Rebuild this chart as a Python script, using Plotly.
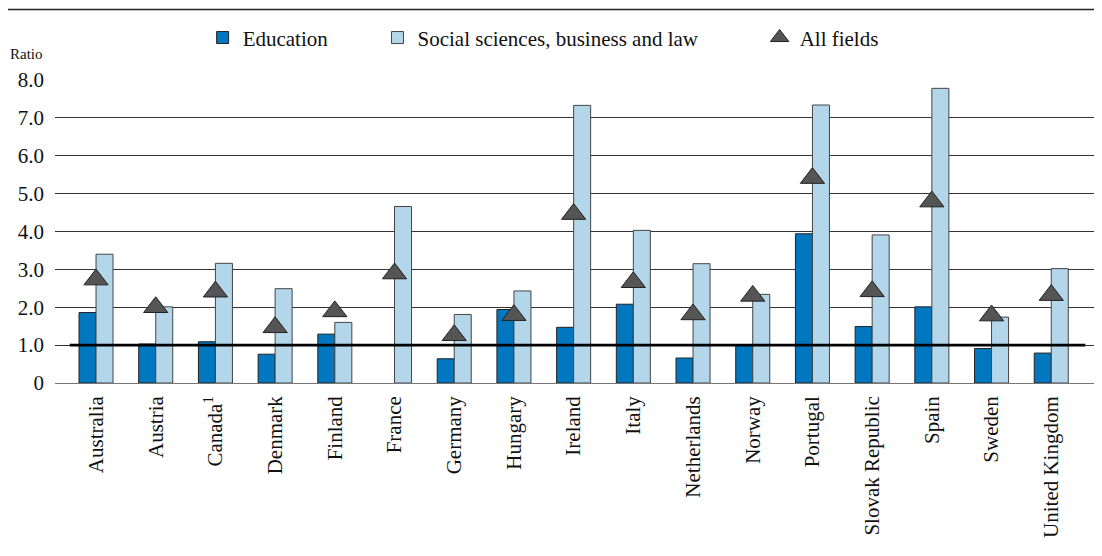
import plotly.graph_objects as go

countries = ["Australia", "Austria", "Canada<sup>1</sup>", "Denmark", "Finland", "France",
             "Germany", "Hungary", "Ireland", "Italy", "Netherlands", "Norway", "Portugal",
             "Slovak Republic", "Spain", "Sweden", "United Kingdom"]
education = [1.86, 1.03, 1.09, 0.76, 1.29, None, 0.64, 1.94, 1.47, 2.08, 0.66, 1.00, 3.94,
             1.49, 2.01, 0.91, 0.79]
social = [3.40, 2.01, 3.16, 2.49, 1.60, 4.66, 1.81, 2.43, 7.33, 4.03, 3.15, 2.34, 7.34,
          3.91, 7.78, 1.74, 3.02]
all_fields = [2.73, 2.00, 2.41, 1.47, 1.89, 2.89, 1.26, 1.79, 4.46, 2.66, 1.81, 2.30, 5.41,
              2.42, 4.79, 1.78, 2.32]
y_tickvals = [0, 1, 2, 3, 4, 5, 6, 7, 8]
y_ticktext = ["0", "1.0", "2.0", "3.0", "4.0", "5.0", "6.0", "7.0", "8.0"]
reference_ratio = 1.0

FONT = "Liberation Serif"

fig = go.Figure()
fig.add_trace(go.Bar(
    x=countries, y=education, name="Education",
    marker=dict(color="#0077BE", line=dict(color="#222222", width=1)),
    legend="legend", showlegend=True,
))
fig.add_trace(go.Bar(
    x=countries, y=social, name="Social sciences, business and law",
    marker=dict(color="#B4D6EA", line=dict(color="#444444", width=1)),
    legend="legend2", showlegend=True,
))
fig.add_trace(go.Scatter(
    x=countries, y=all_fields, name="All fields", mode="markers",
    marker=dict(symbol="triangle-up", size=21, color="#555555",
                line=dict(color="#222222", width=1)),
    legend="legend3", showlegend=True,
))

fig.add_shape(type="line", xref="x", yref="y", x0=-0.44, x1=16.57,
              y0=reference_ratio, y1=reference_ratio,
              line=dict(color="#000000", width=2.6), layer="above")
fig.add_shape(type="line", xref="paper", yref="paper", x0=-0.05, x1=1.0,
              y0=1.233, y1=1.233, line=dict(color="#222222", width=1.5))

fig.add_annotation(text="Ratio", xref="paper", yref="paper", x=-0.045, y=1.085,
                   xanchor="left", yanchor="middle", showarrow=False,
                   font=dict(family=FONT, size=15, color="#111111"))

leg_common = dict(orientation="h", yanchor="middle", y=1.139, xanchor="left",
                  font=dict(family=FONT, size=21, color="#111111"),
                  bgcolor="rgba(0,0,0,0)", traceorder="normal")

# page body has an 8px margin; figure is sized to fill the remaining window
fig.update_layout(
    width=1094, height=548,
    margin=dict(l=47, r=0, t=72, b=173, autoexpand=False),
    paper_bgcolor="white", plot_bgcolor="white",
    showlegend=True,
    barmode="group", bargap=0.43, bargroupgap=0,
    font=dict(family=FONT, size=20, color="#111111"),
    legend=dict(x=0.141, **leg_common),
    legend2=dict(x=0.308, **leg_common),
    legend3=dict(x=0.673, **leg_common),
    xaxis=dict(range=[-0.687, 16.85], tickangle=-90, showgrid=False, showline=False,
               ticks="", ticklabelstandoff=8, automargin=False,
               tickfont=dict(family=FONT, size=21, color="#111111")),
    yaxis=dict(range=[0, 8], tickvals=y_tickvals, ticktext=y_ticktext,
               showgrid=True, gridcolor="#333333", gridwidth=1,
               zeroline=True, zerolinecolor="#777777", zerolinewidth=1,
               showline=False, ticks="", ticklabelstandoff=10, automargin=False,
               tickfont=dict(family=FONT, size=21, color="#111111")),
)

fig.write_html("out.html")
